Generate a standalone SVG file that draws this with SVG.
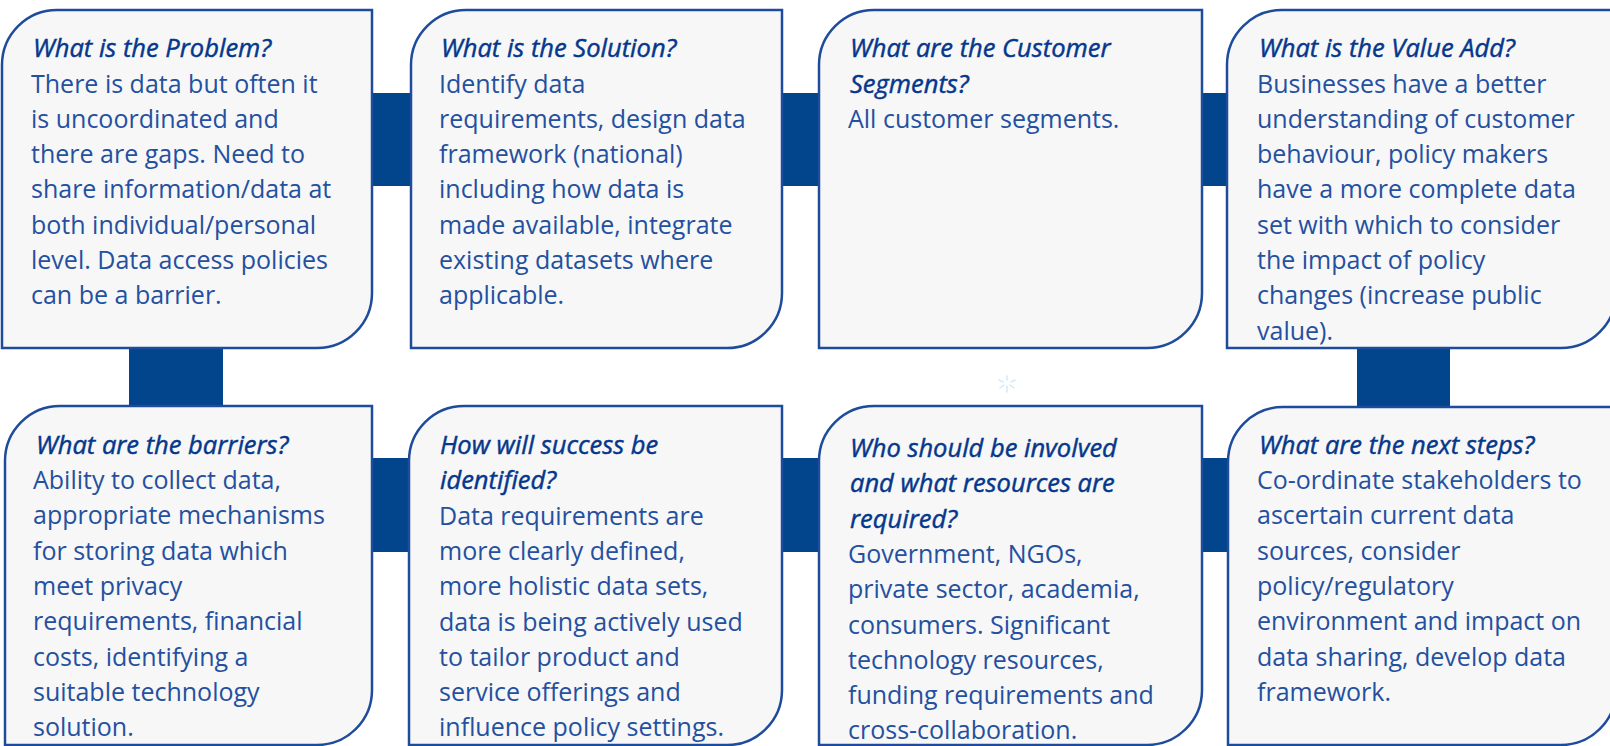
<svg xmlns="http://www.w3.org/2000/svg" width="1610" height="746" viewBox="0 0 1610 746">
<style>
.box{fill:#f7f7f7;stroke:#1e4b9b;stroke-width:2.5}
.bar{fill:#03458c}
.t{font-family:"Open Sans","Noto Sans",sans-serif;font-size:25.5px;font-style:italic;font-weight:400;fill:#05378c;stroke:#05378c;stroke-width:0.45}
.b{font-family:"Open Sans","Noto Sans",sans-serif;font-size:25px;fill:#2450a0}
.star{stroke:#d3e9f8;stroke-width:1.5;stroke-linecap:round}
</style>
<g id="connectors">
<rect class="bar" x="360" y="93" width="60" height="93"/>
<rect class="bar" x="770" y="93" width="60" height="93"/>
<rect class="bar" x="1190" y="93" width="45" height="93"/>
<rect class="bar" x="129" y="340" width="94" height="74"/>
<rect class="bar" x="1357" y="340" width="93" height="75"/>
<rect class="bar" x="360" y="458" width="60" height="94"/>
<rect class="bar" x="770" y="458" width="60" height="94"/>
<rect class="bar" x="1190" y="458" width="45" height="94"/>
</g>
<g id="node-problem">
<path class="box" d="M2,65 A55,55 0 0 1 57,10 H372 V293 A55,55 0 0 1 317,348 H2 Z"/>
<text class="t" x="33" y="57">What is the Problem?</text>
<text class="b" x="31" y="92.5">There is data but often it</text>
<text class="b" x="31" y="127.8">is uncoordinated and</text>
<text class="b" x="31" y="163.1">there are gaps. Need to</text>
<text class="b" x="31" y="198.4">share information/data at</text>
<text class="b" x="31" y="233.7">both individual/personal</text>
<text class="b" x="31" y="269">level. Data access policies</text>
<text class="b" x="31" y="304.3">can be a barrier.</text>
</g>
<g id="node-solution">
<path class="box" d="M411,65 A55,55 0 0 1 466,10 H782 V293 A55,55 0 0 1 727,348 H411 Z"/>
<text class="t" x="441" y="57">What is the Solution?</text>
<text class="b" x="439" y="92.5">Identify data</text>
<text class="b" x="439" y="127.8">requirements, design data</text>
<text class="b" x="439" y="163.1">framework (national)</text>
<text class="b" x="439" y="198.4">including how data is</text>
<text class="b" x="439" y="233.7">made available, integrate</text>
<text class="b" x="439" y="269">existing datasets where</text>
<text class="b" x="439" y="304.3">applicable.</text>
</g>
<g id="node-segments">
<path class="box" d="M819,65 A55,55 0 0 1 874,10 H1202 V293 A55,55 0 0 1 1147,348 H819 Z"/>
<text class="t" x="850" y="57">What are the Customer</text>
<text class="t" x="850" y="92.5">Segments?</text>
<text class="b" x="848" y="127.8">All customer segments.</text>
</g>
<g id="node-value">
<path class="box" d="M1227,65 A55,55 0 0 1 1282,10 H1616 V293 A55,55 0 0 1 1561,348 H1227 Z"/>
<text class="t" x="1259" y="57">What is the Value Add?</text>
<text class="b" x="1257" y="92.5">Businesses have a better</text>
<text class="b" x="1257" y="127.8">understanding of customer</text>
<text class="b" x="1257" y="163.1">behaviour, policy makers</text>
<text class="b" x="1257" y="198.4">have a more complete data</text>
<text class="b" x="1257" y="233.7">set with which to consider</text>
<text class="b" x="1257" y="269">the impact of policy</text>
<text class="b" x="1257" y="304.3">changes (increase public</text>
<text class="b" x="1257" y="339.6">value).</text>
</g>
<g id="node-barriers">
<path class="box" d="M5,461 A55,55 0 0 1 60,406 H372 V690 A55,55 0 0 1 317,745 H5 Z"/>
<text class="t" x="36" y="454">What are the barriers?</text>
<text class="b" x="33" y="489">Ability to collect data,</text>
<text class="b" x="33" y="524.3">appropriate mechanisms</text>
<text class="b" x="33" y="559.6">for storing data which</text>
<text class="b" x="33" y="594.9">meet privacy</text>
<text class="b" x="33" y="630.2">requirements, financial</text>
<text class="b" x="33" y="665.5">costs, identifying a</text>
<text class="b" x="33" y="700.8">suitable technology</text>
<text class="b" x="33" y="736.1">solution.</text>
</g>
<g id="node-success">
<path class="box" d="M409,461 A55,55 0 0 1 464,406 H782 V690 A55,55 0 0 1 727,745 H409 Z"/>
<text class="t" x="440" y="454">How will success be</text>
<text class="t" x="440" y="489.3">identified?</text>
<text class="b" x="439" y="524.6">Data requirements are</text>
<text class="b" x="439" y="559.9">more clearly defined,</text>
<text class="b" x="439" y="595.2">more holistic data sets,</text>
<text class="b" x="439" y="630.5">data is being actively used</text>
<text class="b" x="439" y="665.8">to tailor product and</text>
<text class="b" x="439" y="701.1">service offerings and</text>
<text class="b" x="439" y="736.4">influence policy settings.</text>
</g>
<g id="node-involved">
<path class="box" d="M819,461 A55,55 0 0 1 874,406 H1202 V690 A55,55 0 0 1 1147,745 H819 Z"/>
<text class="t" x="850" y="457">Who should be involved</text>
<text class="t" x="850" y="492.3">and what resources are</text>
<text class="t" x="850" y="527.6">required?</text>
<text class="b" x="848" y="562.9">Government, NGOs,</text>
<text class="b" x="848" y="598.2">private sector, academia,</text>
<text class="b" x="848" y="633.5">consumers. Significant</text>
<text class="b" x="848" y="668.8">technology resources,</text>
<text class="b" x="848" y="704.1">funding requirements and</text>
<text class="b" x="848" y="739.4">cross-collaboration.</text>
</g>
<g id="node-next">
<path class="box" d="M1228,462 A55,55 0 0 1 1283,407 H1616 V690 A55,55 0 0 1 1561,745 H1228 Z"/>
<text class="t" x="1259" y="454">What are the next steps?</text>
<text class="b" x="1257" y="489">Co-ordinate stakeholders to</text>
<text class="b" x="1257" y="524.3">ascertain current data</text>
<text class="b" x="1257" y="559.6">sources, consider</text>
<text class="b" x="1257" y="594.9">policy/regulatory</text>
<text class="b" x="1257" y="630.2">environment and impact on</text>
<text class="b" x="1257" y="665.5">data sharing, develop data</text>
<text class="b" x="1257" y="700.8">framework.</text>
</g>
<g id="sparkle">
<line class="star" x1="1007" y1="376" x2="1007" y2="380"/>
<line class="star" x1="1007" y1="386" x2="1007" y2="392"/>
<line class="star" x1="999" y1="380" x2="1003" y2="382"/>
<line class="star" x1="1011" y1="382" x2="1015" y2="380"/>
<line class="star" x1="1000" y1="388" x2="1004" y2="385"/>
<line class="star" x1="1010" y1="385" x2="1014" y2="388"/>
</g>
</svg>
